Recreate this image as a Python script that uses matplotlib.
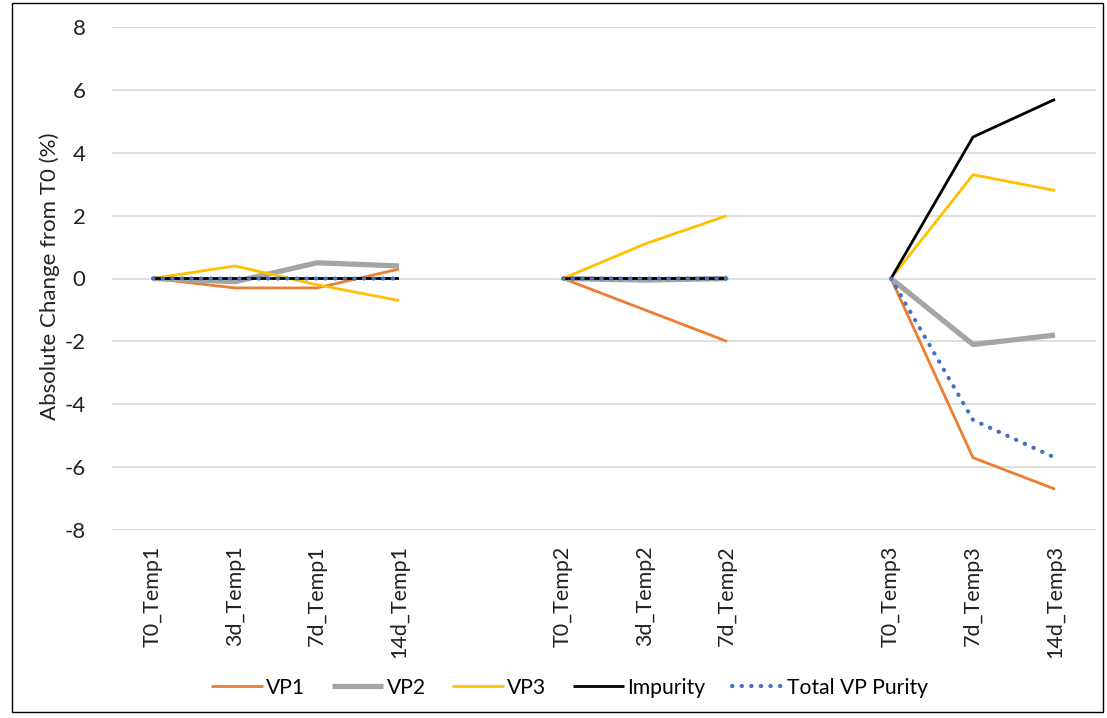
import numpy as np
import matplotlib.pyplot as plt
from matplotlib.patches import Rectangle

plt.rcParams['font.family'] = ['Lato', 'DejaVu Sans']
plt.rcParams['axes.unicode_minus'] = False

# blank entries are spacer categories between the temperature groups
categories = ["T0_Temp1", "3d_Temp1", "7d_Temp1", "14d_Temp1", "",
              "T0_Temp2", "3d_Temp2", "7d_Temp2", "",
              "T0_Temp3", "7d_Temp3", "14d_Temp3"]

vp1 = [0, -0.3, -0.3, 0.3, None, 0, -1.0, -2.0, None, 0, -5.7, -6.7]
vp2 = [0, -0.1, 0.5, 0.4, None, 0, -0.05, 0, None, 0, -2.1, -1.8]
vp3 = [0, 0.4, -0.2, -0.7, None, 0, 1.1, 2.0, None, 0, 3.3, 2.8]
impurity = [0, 0, 0, 0, None, 0, 0, 0, None, 0, 4.5, 5.7]
total_vp = [0, 0, 0, 0, None, 0, 0, 0, None, 0, -4.5, -5.7]

series = [
    ("VP1", vp1, dict(color="#ED7D31", lw=2.0)),
    ("VP2", vp2, dict(color="#A5A5A5", lw=3.8)),
    ("VP3", vp3, dict(color="#FFC000", lw=2.0)),
    ("Impurity", impurity, dict(color="black", lw=2.0)),
    ("Total VP Purity", total_vp, dict(color="#4472C4", lw=3.0,
                                       linestyle=(0, (0.1, 2.2)),
                                       dash_capstyle="round")),
]

fig = plt.figure(figsize=(11.07, 7.18), dpi=100)
ax = fig.add_axes([112 / 1107, 1 - 530 / 718, 984 / 1107, 503 / 718])

x = np.arange(len(categories))
for name, vals, style in series:
    y = np.array([np.nan if v is None else v for v in vals], dtype=float)
    ax.plot(x, y, label=name, solid_capstyle="butt", **style)

ax.set_xlim(-0.5, len(categories) - 0.5)
ax.set_ylim(-8, 8)
ax.set_yticks(range(-8, 9, 2))
ax.set_xticks(x)
ax.set_xticklabels(categories, rotation=90, fontsize=15.5, color="#222222")
ax.tick_params(axis="x", length=0, pad=11)
ax.tick_params(axis="y", length=0, labelsize=16, labelcolor="#222222", pad=19)
ax.grid(axis="y", color="#D9D9D9", lw=1.2)
ax.set_axisbelow(True)
for s in ax.spines.values():
    s.set_visible(False)
ax.set_ylabel("Absolute Change from T0 (%)", fontsize=16, color="#222222")
ax.yaxis.set_label_coords(-0.053, 0.505)

fig.legend(loc="center", bbox_to_anchor=(0.5145, 0.042), ncol=5, frameon=False,
           fontsize=15.2, handlelength=2.45, columnspacing=1.25, handletextpad=0.15)

# outer chart frame
fig.patches.append(Rectangle((12 / 1107, 6 / 718), 1091 / 1107, 709 / 718,
                             transform=fig.transFigure, fill=False,
                             edgecolor="black", lw=1.0))

fig.savefig("out.png", dpi=100)
